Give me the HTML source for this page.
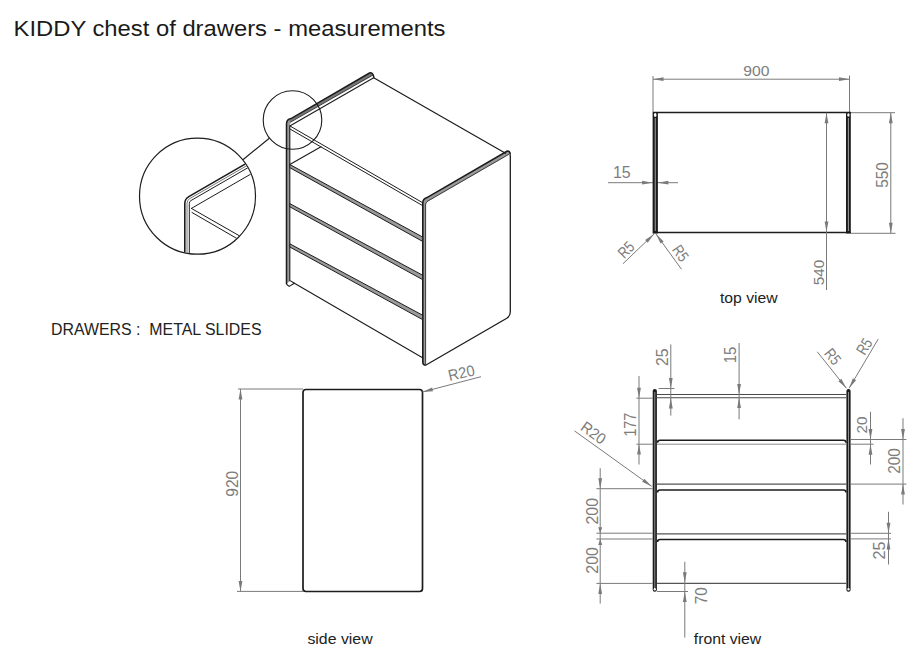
<!DOCTYPE html>
<html><head><meta charset="utf-8"><style>
html,body{margin:0;padding:0;background:#fff;width:920px;height:660px;overflow:hidden}
svg{position:absolute;left:0;top:0}
text{font-family:"Liberation Sans",sans-serif}
</style></head><body>
<svg width="920" height="660" viewBox="0 0 920 660">
<line x1="653" y1="76" x2="653" y2="112" stroke="#7a7a7a" stroke-width="1.0"/>
<line x1="849.5" y1="75.5" x2="849.5" y2="112" stroke="#7a7a7a" stroke-width="1.0"/>
<line x1="653" y1="79.2" x2="849.5" y2="79.2" stroke="#7a7a7a" stroke-width="1.0"/>
<polygon points="653.00,79.20 663.50,77.30 663.50,81.10" fill="#7a7a7a"/>
<polygon points="849.50,79.20 839.00,81.10 839.00,77.30" fill="#7a7a7a"/>
<text font-size="15.493" fill="#7d7d7d" transform="translate(756.5,70.2) rotate(0) scale(1.0131,1) translate(-13.014,5.345)">900</text>
<line x1="653" y1="112.5" x2="851" y2="112.5" stroke="#1c1c1c" stroke-width="1.3"/>
<line x1="653" y1="232.5" x2="851" y2="232.5" stroke="#1c1c1c" stroke-width="1.6"/>
<line x1="608" y1="182.7" x2="678" y2="182.7" stroke="#7a7a7a" stroke-width="1.0"/>
<polygon points="652.60,182.70 642.10,184.60 642.10,180.80" fill="#7a7a7a"/>
<polygon points="657.90,182.70 668.40,180.80 668.40,184.60" fill="#7a7a7a"/>
<text font-size="16.143" fill="#7d7d7d" transform="translate(622.1,173) rotate(0) scale(0.9886,1) translate(-9.282,5.489)">15</text>
<rect x="652.6" y="112" width="5.3" height="121.5" fill="#1c1c1c"/>
<rect x="846" y="112" width="4.8" height="121.5" fill="#1c1c1c"/>
<line x1="655.25" y1="118" x2="655.25" y2="231" stroke="#a0a0a0" stroke-width="1"/>
<line x1="848.4" y1="118" x2="848.4" y2="231" stroke="#a0a0a0" stroke-width="1"/>
<ellipse cx="655.2" cy="115" rx="1.3" ry="2" fill="#fff"/>
<ellipse cx="848.4" cy="115" rx="1.2" ry="1.8" fill="#fff"/>
<line x1="654" y1="234" x2="623" y2="263.7" stroke="#7a7a7a" stroke-width="1.0"/>
<polygon points="654.00,234.00 647.73,242.64 645.10,239.89" fill="#7a7a7a"/>
<line x1="656" y1="234" x2="681.5" y2="269.3" stroke="#7a7a7a" stroke-width="1.0"/>
<polygon points="656.00,234.00 663.69,241.40 660.61,243.62" fill="#7a7a7a"/>
<text font-size="15.714" fill="#7d7d7d" transform="translate(626.2,249.6) rotate(-45) scale(0.7955,1) translate(-10.371,5.343)">R5</text>
<text font-size="15.714" fill="#7d7d7d" transform="translate(680.7,253.5) rotate(55) scale(0.7955,1) translate(-10.371,5.343)">R5</text>
<line x1="826.5" y1="112.7" x2="826.5" y2="290" stroke="#7a7a7a" stroke-width="1.0"/>
<polygon points="826.50,112.70 828.40,123.20 824.60,123.20" fill="#7a7a7a"/>
<polygon points="826.50,232.00 824.60,221.50 828.40,221.50" fill="#7a7a7a"/>
<text font-size="15.493" fill="#7d7d7d" transform="translate(818.2,272.4) rotate(-90) scale(0.9905,1) translate(-12.937,5.345)">540</text>
<line x1="851" y1="112.7" x2="895" y2="112.7" stroke="#7a7a7a" stroke-width="1.0"/>
<line x1="851" y1="233.3" x2="895.5" y2="233.3" stroke="#7a7a7a" stroke-width="1.0"/>
<line x1="890.8" y1="112.7" x2="890.8" y2="233.3" stroke="#7a7a7a" stroke-width="1.0"/>
<polygon points="890.80,112.70 892.70,123.20 888.90,123.20" fill="#7a7a7a"/>
<polygon points="890.80,233.30 888.90,222.80 892.70,222.80" fill="#7a7a7a"/>
<text font-size="15.915" fill="#7d7d7d" transform="translate(882.1,174.9) rotate(-90) scale(0.9642,1) translate(-13.289,5.491)">550</text>
<rect x="303" y="389.5" width="119.5" height="202" rx="3" fill="none" stroke="#1c1c1c" stroke-width="1.7"/>
<line x1="238" y1="389" x2="303" y2="389" stroke="#7a7a7a" stroke-width="1.0"/>
<line x1="237" y1="591.4" x2="303" y2="591.4" stroke="#7a7a7a" stroke-width="1.0"/>
<line x1="240.5" y1="389" x2="240.5" y2="591.4" stroke="#7a7a7a" stroke-width="1.0"/>
<polygon points="240.50,389.00 242.40,399.50 238.60,399.50" fill="#7a7a7a"/>
<polygon points="240.50,591.40 238.60,580.90 242.40,580.90" fill="#7a7a7a"/>
<text font-size="15.915" fill="#7d7d7d" transform="translate(232.3,483.6) rotate(-90) scale(0.9743,1) translate(-13.369,5.491)">920</text>
<line x1="422.4" y1="392" x2="481" y2="376.7" stroke="#7a7a7a" stroke-width="1.0"/>
<polygon points="422.40,392.00 432.08,387.51 433.04,391.19" fill="#7a7a7a"/>
<text font-size="15.493" fill="#7d7d7d" transform="translate(461.7,372.8) rotate(-13) scale(0.9436,1) translate(-14.486,5.345)">R20</text>
<rect x="652.7" y="389" width="4.2" height="202.8" rx="2" fill="#1c1c1c"/>
<line x1="654.8000000000001" y1="392" x2="654.8000000000001" y2="589" stroke="#909090" stroke-width="1"/>
<ellipse cx="654.8000000000001" cy="589.3" rx="1.1" ry="1.3" fill="#fff"/>
<rect x="846.4" y="389" width="4.2" height="202.8" rx="2" fill="#1c1c1c"/>
<line x1="848.5" y1="392" x2="848.5" y2="589" stroke="#909090" stroke-width="1"/>
<ellipse cx="848.5" cy="589.3" rx="1.1" ry="1.3" fill="#fff"/>
<line x1="657" y1="394.5" x2="846.4" y2="394.5" stroke="#4a4a4a" stroke-width="1.1"/>
<line x1="657" y1="397.8" x2="846.4" y2="397.8" stroke="#4a4a4a" stroke-width="1.1"/>
<path d="M657.5,442.8 Q657.5,440.3 660,440.3 L843.5,440.3 Q846,440.3 846,442.8" fill="none" stroke="#1c1c1c" stroke-width="1.6"/>
<line x1="657" y1="484.1" x2="846.4" y2="484.1" stroke="#555" stroke-width="1.2"/>
<path d="M657.5,492.5 Q657.5,490 660,490 L843.5,490 Q846,490 846,492.5" fill="none" stroke="#1c1c1c" stroke-width="1.6"/>
<line x1="657" y1="533.9" x2="846.4" y2="533.9" stroke="#555" stroke-width="1.2"/>
<path d="M657.5,542.0 Q657.5,539.5 660,539.5 L843.5,539.5 Q846,539.5 846,542.0" fill="none" stroke="#1c1c1c" stroke-width="1.6"/>
<line x1="657" y1="583.4" x2="846.4" y2="583.4" stroke="#555" stroke-width="1.2"/>
<line x1="657" y1="444.2" x2="846.4" y2="444.2" stroke="#8a8a8a" stroke-width="1"/>
<line x1="670.8" y1="344.4" x2="670.8" y2="415.6" stroke="#7a7a7a" stroke-width="1.0"/>
<polygon points="670.80,388.50 668.90,378.00 672.70,378.00" fill="#7a7a7a"/>
<polygon points="670.80,398.00 672.70,408.50 668.90,408.50" fill="#7a7a7a"/>
<line x1="658.6" y1="388.5" x2="674.5" y2="388.5" stroke="#7a7a7a" stroke-width="1.0"/>
<text font-size="15.915" fill="#7d7d7d" transform="translate(662.9,357.1) rotate(-90) scale(0.9979,1) translate(-8.913,5.491)">25</text>
<line x1="739.1" y1="343" x2="739.1" y2="419.4" stroke="#7a7a7a" stroke-width="1.0"/>
<polygon points="739.10,394.40 737.20,383.90 741.00,383.90" fill="#7a7a7a"/>
<polygon points="739.10,397.60 741.00,408.10 737.20,408.10" fill="#7a7a7a"/>
<text font-size="16.143" fill="#7d7d7d" transform="translate(730.7,354.6) rotate(-90) scale(0.9261,1) translate(-9.282,5.489)">15</text>
<line x1="639" y1="376" x2="639" y2="464.5" stroke="#7a7a7a" stroke-width="1.0"/>
<polygon points="639.00,398.20 637.10,387.70 640.90,387.70" fill="#7a7a7a"/>
<polygon points="639.00,444.00 640.90,454.50 637.10,454.50" fill="#7a7a7a"/>
<line x1="636.4" y1="398.2" x2="652.7" y2="398.2" stroke="#7a7a7a" stroke-width="1.0"/>
<line x1="636.4" y1="444.2" x2="652.7" y2="444.2" stroke="#7a7a7a" stroke-width="1.0"/>
<text font-size="15.652" fill="#7d7d7d" transform="translate(630.5,424.5) rotate(-90) scale(0.9085,1) translate(-13.304,5.400)">177</text>
<line x1="574.5" y1="430.9" x2="651.8" y2="486.4" stroke="#7a7a7a" stroke-width="1.0"/>
<polygon points="651.80,486.40 642.16,481.82 644.38,478.73" fill="#7a7a7a"/>
<text font-size="15.493" fill="#7d7d7d" transform="translate(593.6,433) rotate(36) scale(0.9436,1) translate(-14.486,5.345)">R20</text>
<line x1="600.2" y1="468.2" x2="600.2" y2="603.6" stroke="#7a7a7a" stroke-width="1.0"/>
<line x1="596.4" y1="488.7" x2="652.7" y2="488.7" stroke="#7a7a7a" stroke-width="1.0"/>
<line x1="596.4" y1="533.2" x2="652.7" y2="533.2" stroke="#7a7a7a" stroke-width="1.0"/>
<line x1="596.4" y1="539" x2="652.7" y2="539" stroke="#7a7a7a" stroke-width="1.0"/>
<line x1="596.4" y1="583.4" x2="652.7" y2="583.4" stroke="#7a7a7a" stroke-width="1.0"/>
<polygon points="600.20,488.70 598.30,478.20 602.10,478.20" fill="#7a7a7a"/>
<polygon points="600.20,533.20 598.20,527.20 602.20,527.20" fill="#7a7a7a"/>
<polygon points="600.20,539.00 602.20,545.00 598.20,545.00" fill="#7a7a7a"/>
<polygon points="600.20,583.40 602.10,593.90 598.30,593.90" fill="#7a7a7a"/>
<text font-size="15.915" fill="#7d7d7d" transform="translate(592.2,511.2) rotate(-90) scale(1.0021,1) translate(-13.369,5.491)">200</text>
<text font-size="15.915" fill="#7d7d7d" transform="translate(592.2,560.3) rotate(-90) scale(1.0021,1) translate(-13.369,5.491)">200</text>
<line x1="850.6" y1="439.5" x2="906.4" y2="439.5" stroke="#7a7a7a" stroke-width="1.0"/>
<line x1="850.6" y1="444.2" x2="873.6" y2="444.2" stroke="#7a7a7a" stroke-width="1.0"/>
<line x1="850.6" y1="484.1" x2="906.4" y2="484.1" stroke="#7a7a7a" stroke-width="1.0"/>
<line x1="850.6" y1="533.3" x2="891" y2="533.3" stroke="#7a7a7a" stroke-width="1.0"/>
<line x1="850.6" y1="538.9" x2="891" y2="538.9" stroke="#7a7a7a" stroke-width="1.0"/>
<line x1="870.5" y1="411.8" x2="870.5" y2="464.5" stroke="#7a7a7a" stroke-width="1.0"/>
<polygon points="870.50,439.50 868.60,429.00 872.40,429.00" fill="#7a7a7a"/>
<polygon points="870.50,444.20 872.40,454.70 868.60,454.70" fill="#7a7a7a"/>
<text font-size="15.493" fill="#7d7d7d" transform="translate(861.4,425) rotate(-90) scale(0.9872,1) translate(-8.676,5.345)">20</text>
<line x1="903" y1="418.2" x2="903" y2="504.5" stroke="#7a7a7a" stroke-width="1.0"/>
<polygon points="903.00,439.50 901.10,429.00 904.90,429.00" fill="#7a7a7a"/>
<polygon points="903.00,484.10 904.90,494.60 901.10,494.60" fill="#7a7a7a"/>
<text font-size="15.775" fill="#7d7d7d" transform="translate(894.5,460.9) rotate(-90) scale(0.9710,1) translate(-13.251,5.442)">200</text>
<line x1="888.5" y1="511.8" x2="888.5" y2="564.5" stroke="#7a7a7a" stroke-width="1.0"/>
<polygon points="888.50,533.30 886.60,522.80 890.40,522.80" fill="#7a7a7a"/>
<polygon points="888.50,538.90 890.40,549.40 886.60,549.40" fill="#7a7a7a"/>
<text font-size="15.915" fill="#7d7d7d" transform="translate(879.3,550.5) rotate(-90) scale(1.0164,1) translate(-8.913,5.491)">25</text>
<line x1="817.3" y1="351.8" x2="846.4" y2="388.2" stroke="#7a7a7a" stroke-width="1.0"/>
<polygon points="846.40,388.20 838.36,381.19 841.33,378.81" fill="#7a7a7a"/>
<line x1="878.2" y1="339.1" x2="849.1" y2="388.2" stroke="#7a7a7a" stroke-width="1.0"/>
<polygon points="849.10,388.20 852.82,378.20 856.09,380.14" fill="#7a7a7a"/>
<text font-size="15.714" fill="#7d7d7d" transform="translate(832.9,356.9) rotate(51.5) scale(0.7955,1) translate(-10.371,5.343)">R5</text>
<text font-size="15.714" fill="#7d7d7d" transform="translate(864.5,346.3) rotate(-59) scale(0.7955,1) translate(-10.371,5.343)">R5</text>
<line x1="684.8" y1="561.8" x2="684.8" y2="637.6" stroke="#7a7a7a" stroke-width="1.0"/>
<polygon points="684.80,582.80 682.90,572.30 686.70,572.30" fill="#7a7a7a"/>
<polygon points="684.80,591.50 686.70,602.00 682.90,602.00" fill="#7a7a7a"/>
<line x1="657" y1="591.5" x2="688" y2="591.5" stroke="#7a7a7a" stroke-width="1.0"/>
<text font-size="15.915" fill="#7d7d7d" transform="translate(701.5,595.7) rotate(-90) scale(0.9671,1) translate(-8.913,5.491)">70</text>
<path d="M425.6,365.3 L506.8,318.3 Q510.3,316 510.3,312 L510.3,156 Q510.3,152.5 507,151.3" fill="none" stroke="#1c1c1c" stroke-width="1.3"/>
<path d="M422.8,363.5 L422.8,203 Q422.8,198.8 427,197.6 L506.9,151.3 Q509.8,150.5 510.3,153.9 L426,202.5 L425.6,365.3 Z" fill="#9a9a9a" stroke="none"/>
<path d="M425.8,365.3 L424.5,365 Q422.8,364.2 422.8,362.5 L422.8,203 Q422.8,198.8 427,197.6 L506.9,151.3 Q509.8,150.5 510.3,153.9" fill="none" stroke="#1c1c1c" stroke-width="1.6"/>
<path d="M425.6,364.2 L425.6,204 L427,201.5 L508.5,154.5" fill="none" stroke="#333" stroke-width="0.9" stroke-linejoin="round" stroke-linecap="round"/>
<path d="M286.5,284 L286.5,124 Q286.5,119.6 291,118.6 L290,124.8 L289.8,281 Z" fill="#9a9a9a" stroke="none"/>
<path d="M289,120.5 L291,118.6 L369.5,73 Q372.5,71.8 373,75 L290.5,122 Z" fill="#777" stroke="none"/>
<path d="M286.5,284.2 L286.5,124 Q286.5,119.6 291,118.6 L369.5,73 Q372.5,71.8 373.7,76.5 L373.7,78" fill="none" stroke="#1c1c1c" stroke-width="1.5"/>
<path d="M286.5,284.2 L289.2,286.4 L294.4,283.2 L290.2,280.6" fill="none" stroke="#1c1c1c" stroke-width="1.1" stroke-linejoin="round"/>
<path d="M290.5,122.2 L373.2,74.9" fill="none" stroke="#1c1c1c" stroke-width="0.8" stroke-linejoin="round" stroke-linecap="round"/>
<path d="M289.8,280.8 L289.8,126 L373.7,77.8" fill="none" stroke="#1c1c1c" stroke-width="1.1" stroke-linejoin="round" stroke-linecap="round"/>
<path d="M373.7,77.8 L505.5,153.3" fill="none" stroke="#1c1c1c" stroke-width="1.2" stroke-linejoin="round" stroke-linecap="round"/>
<path d="M290,126 L422.6,202.7" fill="none" stroke="#1c1c1c" stroke-width="1.0" stroke-linejoin="round" stroke-linecap="round"/>
<path d="M290,129 L422.6,205.6" fill="none" stroke="#1c1c1c" stroke-width="1.0" stroke-linejoin="round" stroke-linecap="round"/>
<path d="M289.8,164.4 L321,146.8" fill="none" stroke="#1c1c1c" stroke-width="1.1" stroke-linejoin="round" stroke-linecap="round"/>
<polygon points="289.8,164.5 422.6,237 422.6,241.4 289.8,167.7" fill="#9a9a9a" stroke="#1e1e1e" stroke-width="1"/>
<polygon points="289.8,203.6 422.6,275.2 422.6,279.59999999999997 289.8,206.79999999999998" fill="#9a9a9a" stroke="#1e1e1e" stroke-width="1"/>
<polygon points="289.8,243.8 422.6,315.2 422.6,319.59999999999997 289.8,247.0" fill="#9a9a9a" stroke="#1e1e1e" stroke-width="1"/>
<path d="M294.4,283.2 L423,358" fill="none" stroke="#1c1c1c" stroke-width="1.1" stroke-linejoin="round" stroke-linecap="round"/>
<circle cx="292.5" cy="120" r="29.3" fill="none" stroke="#1c1c1c" stroke-width="1.1"/>
<path d="M269,138.5 L243.2,159.5" fill="none" stroke="#1c1c1c" stroke-width="1.1" stroke-linejoin="round" stroke-linecap="round"/>
<circle cx="197.5" cy="196.2" r="58" fill="none" stroke="#1c1c1c" stroke-width="1.2"/>
<clipPath id="cc"><circle cx="197.5" cy="196.2" r="57.4"/></clipPath>
<g clip-path="url(#cc)">
<path d="M184.8,260 L184.8,203.5 A8,8 0 0 1 188.8,196.6 L262,154.4" fill="none" stroke="#1c1c1c" stroke-width="1.6"/>
<path d="M187,260 L187,203.5 A5.8,5.8 0 0 1 189.9,198.5 L262,156.9" fill="none" stroke="#666" stroke-width="0.9"/>
<path d="M189.3,260 L189.3,203.5 A3.5,3.5 0 0 1 191.05,200.5 L262,159.6" fill="none" stroke="#1c1c1c" stroke-width="1.0"/>
<path d="M191.4,208.4 L262,167.6" fill="none" stroke="#1c1c1c" stroke-width="1.0" stroke-linejoin="round" stroke-linecap="round"/>
<path d="M191.4,208.4 L245,239" fill="none" stroke="#1c1c1c" stroke-width="1.0" stroke-linejoin="round" stroke-linecap="round"/>
<path d="M192,212.5 L245,243.2" fill="none" stroke="#1c1c1c" stroke-width="1.0" stroke-linejoin="round" stroke-linecap="round"/>
</g>
<text font-size="22.877" fill="#1a1a1a" xml:space="preserve" style="white-space:pre" transform="translate(13.595,36.2) scale(1.0407,1)">KIDDY chest of drawers - measurements</text>
<text font-size="15.857" fill="#222" xml:space="preserve" style="white-space:pre" transform="translate(50.927,334.9) scale(1.0036,1)">DRAWERS :  METAL SLIDES</text>
<text font-size="14.932" fill="#222" xml:space="preserve" style="white-space:pre" transform="translate(307.424,643.7) scale(1.0620,1)">side view</text>
<text font-size="14.932" fill="#222" xml:space="preserve" style="white-space:pre" transform="translate(693.742,643.7) scale(1.0571,1)">front view</text>
<text font-size="14.384" fill="#222" xml:space="preserve" style="white-space:pre" transform="translate(719.884,302.7) scale(1.0971,1)">top view</text>
</svg>
</body></html>
